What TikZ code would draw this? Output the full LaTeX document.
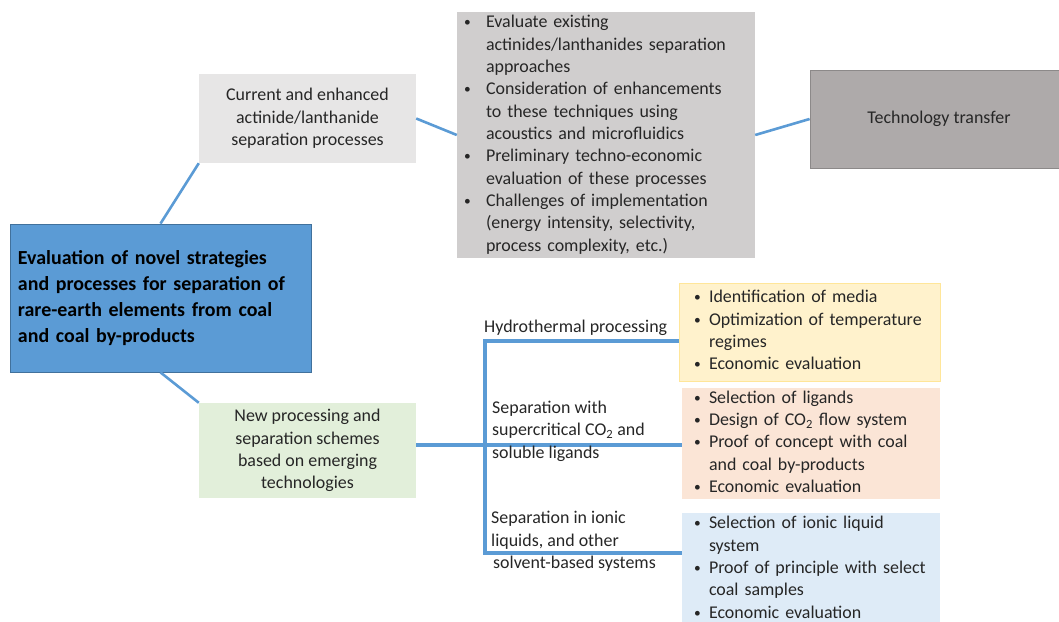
\documentclass[tikz,border=0pt]{standalone}
\usepackage{fontspec}
\setmainfont{Carlito}
\usepackage{tikz}
\usepackage{xcolor}
\definecolor{boxColorMain}{HTML}{5B9BD5}
\definecolor{boxLineMain}{HTML}{41719C}
\definecolor{boxColorCurrent}{HTML}{E7E6E6}
\definecolor{boxColorSteps}{HTML}{D0CECE}
\definecolor{boxColorTransfer}{HTML}{AEAAAA}
\definecolor{boxLineTransfer}{HTML}{8C8989}
\definecolor{boxColorNew}{HTML}{E2EFDA}
\definecolor{boxColorHydro}{HTML}{FFF2CC}
\definecolor{boxLineHydro}{HTML}{FFE699}
\definecolor{boxColorCarbon}{HTML}{FBE5D6}
\definecolor{boxColorIonic}{HTML}{DEEBF7}
\definecolor{linkColor}{HTML}{5B9BD5}
\definecolor{textColor}{HTML}{262626}
\newcommand{\dotMark}{\raisebox{1bp}{\scalebox{0.75}{\textbullet}}}
\def\textMain{Evaluation of novel strategies\\and processes for separation of\\rare-earth elements from coal\\and coal by-products}
\def\textCurrent{Current and enhanced\\actinide/lanthanide\\separation processes}
\def\textTransfer{Technology transfer}
\def\textNew{New processing and\\separation schemes\\based on emerging\\technologies}
\def\textHydroLabel{Hydrothermal processing}
\def\textCarbonLabel{Separation with\\supercritical CO\textsubscript{2} and\\soluble ligands}
\def\textIonicLabel{Separation in ionic\\liquids, and other\\\hspace{2bp}solvent-based systems}
\def\textSteps{\begin{tabular}{@{}p{22bp}@{}l@{}}
\dotMark & Evaluate existing\\
 & actinides/lanthanides separation\\
 & approaches\\
\dotMark & Consideration of enhancements\\
 & to these techniques using\\
 & acoustics and microfluidics\\
\dotMark & Preliminary techno-economic\\
 & evaluation of these processes\\
\dotMark & Challenges of implementation\\
 & (energy intensity, selectivity,\\
 & process complexity, etc.)
\end{tabular}}
\def\textHydro{\begin{tabular}{@{}p{15bp}@{}l@{}}
\dotMark & Identification of media\\
\dotMark & Optimization of temperature\\
 & regimes\\
\dotMark & Economic evaluation
\end{tabular}}
\def\textCarbon{\begin{tabular}{@{}p{15bp}@{}l@{}}
\dotMark & Selection of ligands\\
\dotMark & Design of CO\textsubscript{2} flow system\\
\dotMark & Proof of concept with coal\\
 & and coal by-products\\
\dotMark & Economic evaluation
\end{tabular}}
\def\textIonic{\begin{tabular}{@{}p{15bp}@{}l@{}}
\dotMark & Selection of ionic liquid\\
 & system\\
\dotMark & Proof of principle with select\\
 & coal samples\\
\dotMark & Economic evaluation
\end{tabular}}

\begin{document}
\begin{tikzpicture}[x=1bp,y=-1bp,
  box/.style={inner sep=0pt, text=textColor, font=\fontsize{18}{22.4}\selectfont},
  label/.style={inner sep=0pt, text=textColor, align=left, font=\fontsize{18}{22.4}\selectfont},
  link/.style={draw=linkColor, line width=2.6bp},
  tree/.style={draw=linkColor, line width=3.4bp}]
\useasboundingbox (0, 0) rectangle (1059, 622);

% box layer
\begin{scope}
\node[box, fill=boxColorMain, draw=boxLineMain, line width=0.8bp, minimum width=301bp, minimum height=148bp,
  text width=285bp, inner xsep=8bp, align=left, text=black,
  font=\fontsize{20}{26}\selectfont\bfseries] (main) at (160.5, 298) {\textMain};
\node[box, fill=boxColorCurrent, minimum width=217bp, minimum height=89bp, align=center]
  (current) at (307.5, 118.5) {\textCurrent};
\node[box, fill=boxColorSteps, minimum width=298bp, minimum height=246bp,
  text width=284bp, inner xsep=7bp, align=left] (steps) at (606, 135) {\textSteps};
\node[box, fill=boxColorTransfer, draw=boxLineTransfer, line width=0.8bp, minimum width=258bp, minimum height=98bp]
  (transfer) at (939, 119) {\textTransfer};
\node[box, fill=boxColorNew, minimum width=217bp, minimum height=95bp, align=center]
  (new) at (307.5, 450.5) {\textNew};
\node[box, fill=boxColorHydro, draw=boxLineHydro, line width=0.8bp, minimum width=261bp, minimum height=98bp,
  text width=231bp, inner xsep=15bp, align=left] (hydro) at (809.5, 332) {\textHydro};
\node[box, fill=boxColorCarbon, minimum width=258bp, minimum height=107bp,
  text width=234bp, inner xsep=12bp, align=left] (carbon) at (811, 443.5) {\textCarbon};
\node[box, fill=boxColorIonic, minimum width=258bp, minimum height=112bp,
  text width=234bp, inner xsep=12bp, align=left] (ionic) at (811, 569) {\textIonic};
\end{scope}

% link layer
\begin{scope}
\coordinate (jA) at (485, 341);
\coordinate (jB) at (485, 445);
\coordinate (jC) at (485, 553);
\draw[link] (main.north) -- (current.south west);
\draw[link] (main.south) -- (new.north west);
\draw[link] (current.east) -- (steps.west);
\draw[link] (steps.east) -- (transfer.west);
\draw[tree] (hydro.west |- jA) -- (jA) -- (jC) -- (ionic.west |- jC);
\draw[tree] (new.east |- jB) -- (carbon.west |- jB);
\end{scope}

% label layer
\begin{scope}
\node[label, anchor=west] (hydroLabel) at (484, 328) {\textHydroLabel};
\node[label, anchor=west] (carbonLabel) at (492, 431) {\textCarbonLabel};
\node[label, anchor=west] (ionicLabel) at (491, 541.5) {\textIonicLabel};
\end{scope}
\end{tikzpicture}
\end{document}
